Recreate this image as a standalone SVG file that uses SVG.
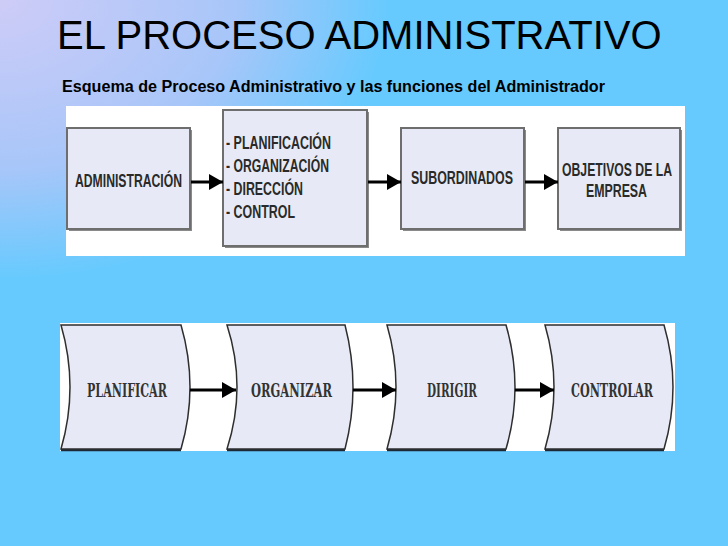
<svg xmlns="http://www.w3.org/2000/svg" width="728" height="546" viewBox="0 0 728 546">
  <style>
    .title { font-family: "Liberation Sans", Arial, sans-serif; font-size: 40px; fill: #000; }
    .sub { font-family: "Liberation Sans", Arial, sans-serif; font-size: 16px; font-weight: bold; fill: #000; }
    .box { fill: #E7EAF6; stroke: #6E6E6E; stroke-width: 2; }
    .shadow { fill: #8A8A8A; }
    .btxt { font-family: "Liberation Sans", Arial, sans-serif; font-size: 19px; font-weight: bold; fill: #2A2A2A; }
    .chev { fill: #E7EAF6; stroke: #2E2E2E; stroke-width: 1.5; }
    .chevsh { fill: none; stroke: #1C2A38; stroke-width: 2.5; }
    .ctxt { font-family: "DejaVu Serif", "Liberation Serif", serif; font-size: 19px; font-weight: bold; fill: #333; }
    .conn { stroke: #000; stroke-width: 3; fill: none; }
  </style>
  <defs>
    <radialGradient id="bgGrad" cx="0" cy="0" r="1" fx="0" fy="0">
      <stop offset="0" stop-color="#CECCF7"/>
      <stop offset="0.6" stop-color="#A8C6F9"/>
      <stop offset="1" stop-color="#66CAFE"/>
    </radialGradient>
    <marker id="ah" markerUnits="userSpaceOnUse" markerWidth="14" markerHeight="16" refX="14" refY="8" orient="auto">
      <path d="M0,0 L14,8 L0,16 Z" fill="#000"/>
    </marker>
  </defs>

  <!-- background -->
  <rect x="0" y="0" width="728" height="546" fill="#66CAFE"/>
  <rect x="0" y="0" width="390" height="280" fill="url(#bgGrad)"/>

  <!-- titles -->
  <text class="title" x="57" y="49">EL PROCESO ADMINISTRATIVO</text>
  <text class="sub" x="62" y="92" textLength="543" lengthAdjust="spacingAndGlyphs">Esquema de Proceso Administrativo y las funciones del Administrador</text>

  <!-- panels -->
  <rect x="66" y="106" width="619" height="150" fill="#FFFFFF"/>
  <rect x="60" y="323" width="615" height="128" fill="#FFFFFF"/>

  <!-- top row nodes -->
  <g id="administracion">
    <rect class="shadow" x="69" y="130" width="123" height="101"/>
    <rect class="box" x="67" y="128" width="123" height="101"/>
    <text class="btxt" x="75" y="187" textLength="107" lengthAdjust="spacingAndGlyphs">ADMINISTRACIÓN</text>
  </g>
  <g id="funciones">
    <rect class="shadow" x="225" y="112" width="144" height="136"/>
    <rect class="box" x="223" y="110" width="144" height="136"/>
    <text class="btxt" x="226" y="149" textLength="105" lengthAdjust="spacingAndGlyphs">- PLANIFICACIÓN</text>
    <text class="btxt" x="226" y="172" textLength="103" lengthAdjust="spacingAndGlyphs">- ORGANIZACIÓN</text>
    <text class="btxt" x="226" y="195" textLength="77" lengthAdjust="spacingAndGlyphs">- DIRECCIÓN</text>
    <text class="btxt" x="226" y="218" textLength="69" lengthAdjust="spacingAndGlyphs">- CONTROL</text>
  </g>
  <g id="subordinados">
    <rect class="shadow" x="403" y="130" width="123" height="101"/>
    <rect class="box" x="401" y="128" width="123" height="101"/>
    <text class="btxt" x="411" y="184" textLength="102" lengthAdjust="spacingAndGlyphs">SUBORDINADOS</text>
  </g>
  <g id="objetivos">
    <rect class="shadow" x="560" y="130" width="122" height="101"/>
    <rect class="box" x="558" y="128" width="122" height="101"/>
    <text class="btxt" x="562" y="176" textLength="110" lengthAdjust="spacingAndGlyphs">OBJETIVOS DE LA</text>
    <text class="btxt" x="586" y="197" textLength="61" lengthAdjust="spacingAndGlyphs">EMPRESA</text>
  </g>

  <!-- bottom row nodes -->
  <g id="planificar">
    <path class="chevsh" d="M61,450 L181,450"/>
    <path class="chev" d="M61,325 L181,325 Q199,387 181,449 L61,449 Q79,387 61,325 Z"/>
    <text class="ctxt" x="87" y="397" textLength="80" lengthAdjust="spacingAndGlyphs">PLANIFICAR</text>
  </g>
  <g id="organizar">
    <path class="chevsh" d="M227,450 L345,450"/>
    <path class="chev" d="M227,325 L345,325 Q361,387 345,449 L227,449 Q247,387 227,325 Z"/>
    <text class="ctxt" x="251" y="397" textLength="81" lengthAdjust="spacingAndGlyphs">ORGANIZAR</text>
  </g>
  <g id="dirigir">
    <path class="chevsh" d="M387,450 L506,450"/>
    <path class="chev" d="M387,325 L506,325 Q524,387 506,449 L387,449 Q405,387 387,325 Z"/>
    <text class="ctxt" x="427" y="397" textLength="50" lengthAdjust="spacingAndGlyphs">DIRIGIR</text>
  </g>
  <g id="controlar">
    <path class="chevsh" d="M545,450 L664,450"/>
    <path class="chev" d="M545,325 L664,325 Q682,387 664,449 L545,449 Q563,387 545,325 Z"/>
    <text class="ctxt" x="571" y="397" textLength="82" lengthAdjust="spacingAndGlyphs">CONTROLAR</text>
  </g>

  <!-- connectors -->
  <g id="connectors">
    <line class="conn" x1="191" y1="182" x2="223" y2="182" marker-end="url(#ah)"/>
    <line class="conn" x1="368" y1="182" x2="401" y2="182" marker-end="url(#ah)"/>
    <line class="conn" x1="525" y1="182" x2="558" y2="182" marker-end="url(#ah)"/>
    <line class="conn" x1="190" y1="390" x2="236" y2="390" marker-end="url(#ah)"/>
    <line class="conn" x1="353" y1="390" x2="396" y2="390" marker-end="url(#ah)"/>
    <line class="conn" x1="515" y1="390" x2="554" y2="390" marker-end="url(#ah)"/>
  </g>
</svg>
